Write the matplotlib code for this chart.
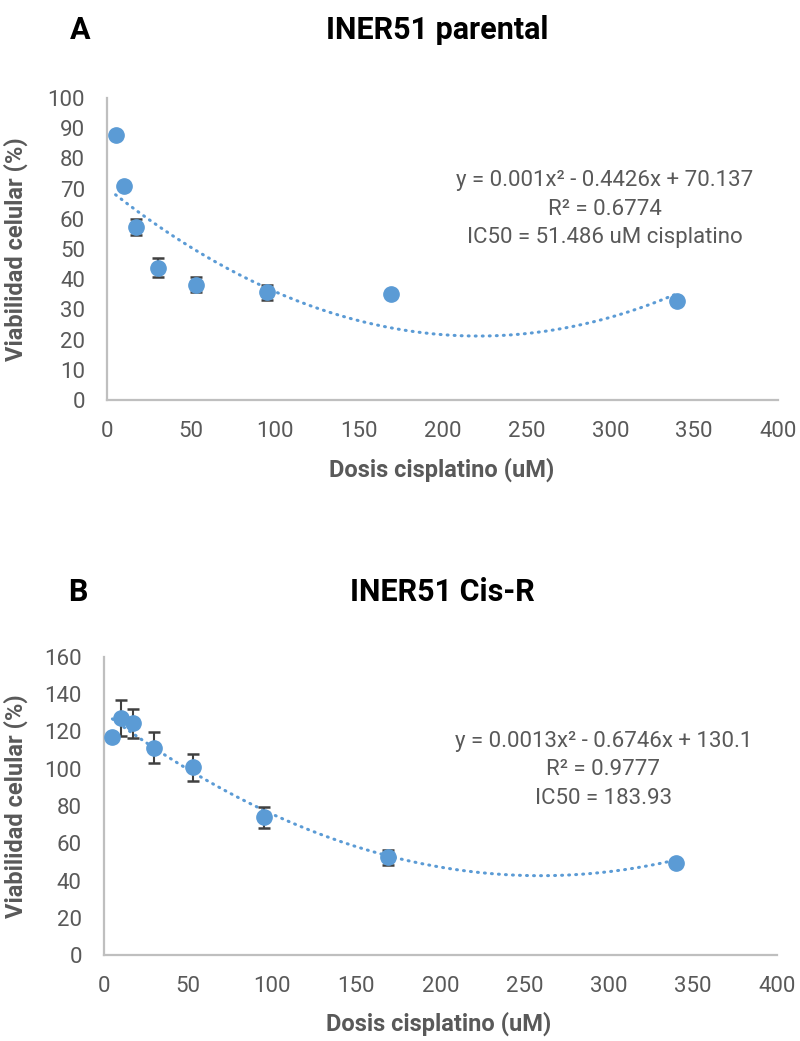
import numpy as np
import matplotlib
matplotlib.use("Agg")
import matplotlib.pyplot as plt
from matplotlib import font_manager

# fuente estrecha si existe
nombres = {f.name for f in font_manager.fontManager.ttflist}
fuente = 'Liberation Sans Narrow' if 'Liberation Sans Narrow' in nombres else 'Roboto'
plt.rcParams['font.family'] = [fuente, 'DejaVu Sans']

# datos
dosis = [5, 10, 17, 30, 53, 95, 169, 340]
parental = [87.7, 70.9, 57.3, 43.8, 38.2, 35.6, 35.2, 32.9]
parental_err = [0.4, 0.4, 2.7, 3.1, 2.5, 2.4, 0.4, 0.4]
cisr = [117.0, 127.4, 124.4, 111.3, 100.8, 73.9, 52.4, 49.4]
cisr_err = [0.6, 9.6, 7.9, 8.3, 7.2, 5.7, 4.2, 0.6]

# coeficientes de la tendencia polinómica (a, b, c)
coef_parental = [0.001, -0.4426, 70.137]
coef_cisr = [0.0013, -0.6746, 130.1]

azul = '#5B9BD5'
gris = '#595959'


def panel(ax, x, y, err, coef, ylim, ystep, texto, ylab_x, texto_y):
    xx = np.linspace(min(x), max(x), 300)
    ax.plot(xx, np.polyval(coef, xx), color=azul, lw=2.2,
            linestyle=(0, (0.3, 2.0)), dash_capstyle='round', zorder=2)
    ax.errorbar(x, y, yerr=err, fmt='none', ecolor='#404040', elinewidth=1.5,
                capsize=4.4, capthick=1.8, zorder=3)
    ax.plot(x, y, 'o', color=azul, markersize=11, zorder=4)

    ax.set_xlim(0, 400)
    ax.set_ylim(0, ylim)
    ax.set_xticks(np.arange(0, 401, 50))
    ax.set_yticks(np.arange(0, ylim + 1, ystep))
    for s in ['top', 'right']:
        ax.spines[s].set_visible(False)
    for s in ['left', 'bottom']:
        ax.spines[s].set_color('#BFBFBF')
        ax.spines[s].set_linewidth(1.6)
    ax.tick_params(length=0, labelsize=16, labelcolor=gris)
    ax.tick_params(axis='y', pad=16)
    ax.tick_params(axis='x', pad=15)

    ax.set_ylabel('Viabilidad celular (%)', fontsize=17, fontweight='bold', color=gris)
    ax.yaxis.set_label_coords(ylab_x, 0.5)
    ax.set_xlabel('Dosis cisplatino (uM)', fontsize=17, fontweight='bold', color=gris)
    ax.xaxis.set_label_coords(0.498, -0.19)

    ax.text(0.742, texto_y, texto, transform=ax.transAxes, ha='center', va='center',
            fontsize=16, color=gris, linespacing=1.45)


fig = plt.figure(figsize=(8, 10.41), dpi=100)
ax1 = fig.add_axes([0.134, 0.6158, 0.8385, 0.2901])
ax2 = fig.add_axes([0.13, 0.0826, 0.841, 0.2863])

panel(ax1, dosis, parental, parental_err, coef_parental, 100, 10,
      'y = 0.001x² - 0.4426x + 70.137\nR² = 0.6774\nIC50 = 51.486 uM cisplatino', -0.118, 0.632)
panel(ax2, dosis, cisr, cisr_err, coef_cisr, 160, 20,
      'y = 0.0013x² - 0.6746x + 130.1\nR² = 0.9777\nIC50 = 183.93', -0.113, 0.621)

fig.text(80 / 800, 1 - 30 / 1041, 'A', fontsize=22, fontweight='bold', ha='center', va='center')
fig.text(437 / 800, 1 - 30 / 1041, 'INER51 parental', fontsize=22, fontweight='bold', ha='center', va='center')
fig.text(78 / 800, 1 - 592 / 1041, 'B', fontsize=22, fontweight='bold', ha='center', va='center')
fig.text(442 / 800, 1 - 592 / 1041, 'INER51 Cis-R', fontsize=22, fontweight='bold', ha='center', va='center')

fig.savefig('out.png', dpi=100)
